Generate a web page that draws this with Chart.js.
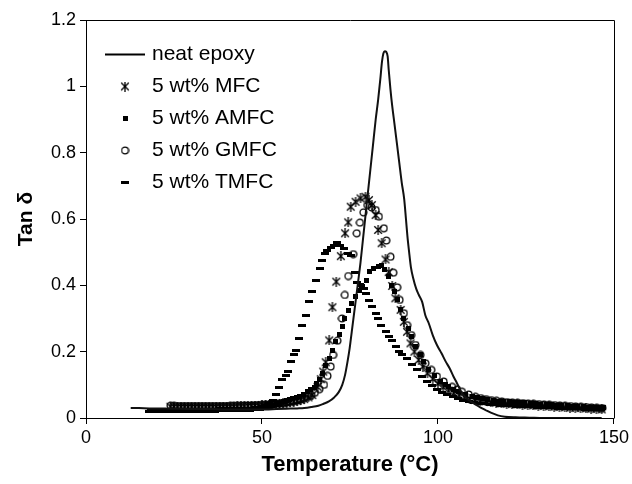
<!DOCTYPE html>
<html>
<head>
<meta charset="utf-8">
<script src="https://cdn.jsdelivr.net/npm/chart.js@4.4.1/dist/chart.umd.min.js"></script>
<style>
  html, body { margin: 0; padding: 0; background: #fff; }
  #wrap { position: relative; width: 632px; height: 484px; }
</style>
</head>
<body>
<div id="wrap"><canvas id="c"></canvas></div>
<script>
// ---- data (temperature °C, tan δ) ----
const seriesNames = ['neat epoxy', '5 wt% MFC', '5 wt% AMFC', '5 wt% GMFC', '5 wt% TMFC'];
const xTicks = [0, 50, 100, 150];
const yTicks = [0, 0.2, 0.4, 0.6, 0.8, 1, 1.2];
const yTickLabels = ['0', '0.2', '0.4', '0.6', '0.8', '1', '1.2'];

const neatEpoxy = [[12.7,0.03],[15,0.03],[18,0.029],[21,0.029],[24,0.028],[27,0.028],[30,0.027],[33,0.027],[36,0.027],[39,0.026],[42,0.026],[45,0.026],[48,0.026],[51,0.026],[54,0.027],[57,0.028],[60,0.029],[62,0.03],[64,0.033],[66,0.037],[67.5,0.043],[69,0.05],[70.5,0.062],[71.8,0.078],[72.8,0.1],[73.6,0.13],[74.3,0.17],[74.9,0.21],[75.5,0.26],[76.1,0.31],[76.7,0.36],[77.3,0.41],[78,0.47],[78.7,0.54],[79.4,0.61],[80.1,0.68],[80.8,0.75],[81.5,0.82],[82.3,0.9],[83,0.96],[83.6,1.02],[84.1,1.075],[84.5,1.1],[84.9,1.106],[85.3,1.104],[85.7,1.09],[86,1.05],[86.5,0.99],[87,0.94],[87.6,0.89],[88.3,0.83],[89,0.77],[89.7,0.71],[90.4,0.66],[90.9,0.6],[91.3,0.55],[91.8,0.5],[92.3,0.455],[93,0.42],[93.8,0.39],[94.6,0.37],[95.5,0.35],[96.4,0.31],[97.4,0.285],[98.5,0.25],[99.7,0.22],[101,0.195],[102.2,0.17],[103.3,0.15],[104.4,0.125],[105.4,0.105],[106.4,0.083],[107.5,0.066],[109,0.052],[110.5,0.042],[112,0.032],[113.5,0.024],[115,0.016],[117,0.008],[119,0.004],[122,0.002],[126,0.001],[130,0],[135,0],[140,0],[146.5,0]];

const mfc = [[24,0.034],[25,0.034],[26,0.033],[27,0.033],[28,0.033],[29,0.033],[30,0.033],[31,0.033],[32,0.033],[33,0.033],[34,0.033],[35,0.033],[36,0.033],[37,0.033],[38,0.034],[39,0.034],[40,0.034],[41,0.034],[42,0.034],[43,0.035],[44,0.035],[45,0.035],[46,0.036],[47,0.036],[48,0.037],[49,0.037],[50,0.038],[51,0.039],[52,0.04],[53,0.041],[54,0.042],[55,0.043],[56,0.044],[57,0.045],[58,0.047],[59,0.049],[60,0.051],[61,0.054],[62,0.057],[63.2,0.062],[64.3,0.069],[65.8,0.094],[66.7,0.117],[67.4,0.14],[68.1,0.168],[69.1,0.234],[70,0.334],[71.1,0.411],[72.4,0.488],[73.6,0.557],[74.5,0.59],[75.2,0.637],[76.6,0.652],[78,0.662],[79.4,0.667],[80.4,0.657],[81.2,0.642],[82.3,0.612],[83,0.567],[84,0.527],[85.1,0.478],[86,0.44],[87,0.398],[87.9,0.361],[89.4,0.326],[90.3,0.29],[91.2,0.26],[92.2,0.225],[93.3,0.2],[94.5,0.175],[95.7,0.155],[97,0.135],[98.5,0.118],[100,0.104],[101.5,0.093],[103,0.083],[104.5,0.075],[106,0.068],[107.5,0.062],[109,0.058],[110.5,0.055],[112,0.052],[113.5,0.05],[115,0.048],[116.5,0.046],[118,0.044],[119.5,0.043],[121,0.042],[122.5,0.041],[124,0.04],[125.5,0.039],[127,0.038],[128.5,0.037],[130,0.036],[131.5,0.035],[133,0.034],[134.5,0.033],[136,0.032],[137.5,0.031],[139,0.03],[140.5,0.03],[142,0.029],[143.5,0.028],[145,0.027],[146.5,0.026]];

const amfc = [[18,0.023],[19,0.023],[20,0.023],[21,0.023],[22,0.023],[23,0.023],[24,0.023],[25,0.023],[26,0.023],[27,0.023],[28,0.023],[29,0.023],[30,0.023],[31,0.024],[32,0.024],[33,0.024],[34,0.024],[35,0.024],[36,0.024],[37,0.024],[38,0.025],[39,0.025],[40,0.025],[41,0.025],[42,0.025],[43,0.026],[44,0.026],[45,0.026],[46,0.027],[47,0.027],[48,0.028],[49,0.029],[50,0.03],[51,0.032],[52,0.035],[53,0.038],[54,0.041],[55,0.045],[56,0.049],[57,0.052],[57.7,0.055],[58.8,0.059],[59.7,0.062],[60.6,0.065],[61.8,0.072],[62.9,0.079],[63.8,0.085],[64.8,0.093],[65.5,0.104],[66.2,0.115],[67.2,0.135],[68.1,0.158],[69.1,0.18],[70,0.205],[71,0.23],[71.9,0.253],[72.8,0.277],[73.5,0.3],[74.5,0.324],[75.5,0.346],[76.6,0.366],[77.6,0.384],[78.3,0.398],[79.6,0.416],[80.6,0.441],[81.8,0.451],[83,0.456],[84,0.461],[84.9,0.448],[85.8,0.428],[86.8,0.401],[87.6,0.38],[88.4,0.356],[89.4,0.326],[90.3,0.3],[91.5,0.27],[92.4,0.245],[93.6,0.215],[94.9,0.19],[96,0.17],[97.4,0.147],[98.9,0.127],[100.7,0.11],[102,0.1],[103,0.094],[104.5,0.087],[105.9,0.08],[107.8,0.072],[109.7,0.065],[111.2,0.061],[112.7,0.058],[114.2,0.055],[115.7,0.053],[117.2,0.051],[118.7,0.05],[120.2,0.049],[121.7,0.048],[123.2,0.047],[124.7,0.046],[126.2,0.044],[127.7,0.043],[129.2,0.042],[130.7,0.041],[132.2,0.04],[133.7,0.039],[135.2,0.038],[136.7,0.037],[138.2,0.036],[139.7,0.035],[141.2,0.034],[142.7,0.033],[144.2,0.032],[145.7,0.031],[147,0.031]];

const gmfc = [[24,0.037],[25,0.037],[26,0.036],[27,0.036],[28,0.036],[29,0.036],[30,0.036],[31,0.036],[32,0.036],[33,0.036],[34,0.036],[35,0.036],[36,0.036],[37,0.036],[38,0.036],[39,0.036],[40,0.036],[41,0.037],[42,0.037],[43,0.037],[44,0.037],[45,0.038],[46,0.038],[47,0.038],[48,0.039],[49,0.039],[50,0.04],[51,0.04],[52,0.041],[53,0.042],[54,0.043],[55,0.044],[56,0.045],[57,0.047],[58,0.049],[59,0.051],[60,0.053],[61,0.056],[62,0.06],[63,0.064],[64,0.069],[65,0.076],[66.3,0.087],[67.6,0.1],[68.6,0.127],[69.5,0.155],[70.2,0.19],[71.4,0.233],[72.7,0.3],[73.5,0.371],[74.5,0.428],[75.9,0.494],[76.9,0.557],[77.8,0.589],[78.8,0.62],[79.9,0.642],[81.1,0.635],[82.3,0.627],[83.2,0.607],[84.6,0.572],[85.3,0.535],[86.5,0.486],[87.3,0.438],[88.4,0.394],[89.1,0.356],[90.3,0.316],[91.2,0.28],[92.4,0.25],[93.6,0.22],[95,0.19],[96.4,0.165],[98.1,0.145],[99.7,0.125],[101.6,0.11],[104,0.094],[105.4,0.086],[106.8,0.079],[108.7,0.071],[110.6,0.064],[112.1,0.06],[113.6,0.057],[115.1,0.054],[116.6,0.052],[118.1,0.05],[119.6,0.048],[121.1,0.047],[122.6,0.046],[124.1,0.045],[125.6,0.044],[127.1,0.043],[128.6,0.042],[130.1,0.041],[131.6,0.04],[133.1,0.039],[134.6,0.038],[136.1,0.037],[137.6,0.036],[139.1,0.035],[140.6,0.034],[142.1,0.033],[143.6,0.032],[145.1,0.031],[146.6,0.03]];

const tmfc = [[18,0.021],[19,0.021],[20,0.021],[21,0.021],[22,0.021],[23,0.021],[24,0.021],[25,0.021],[26,0.021],[27,0.021],[28,0.021],[29,0.021],[30,0.022],[31,0.022],[32,0.022],[33,0.022],[34,0.022],[35,0.022],[36,0.022],[37,0.023],[38,0.023],[39,0.023],[40,0.023],[41,0.024],[42,0.024],[43,0.025],[44,0.025],[45,0.026],[46,0.027],[47,0.028],[48,0.03],[49,0.032],[50,0.035],[51,0.039],[52,0.045],[53,0.054],[54,0.07],[54.9,0.093],[55.8,0.115],[56.7,0.128],[57.5,0.14],[58.2,0.17],[59,0.19],[59.6,0.205],[60.6,0.24],[61.5,0.28],[62.4,0.31],[63.3,0.35],[64.3,0.38],[65.3,0.415],[66.5,0.45],[67.1,0.475],[68,0.495],[68.5,0.505],[69.5,0.515],[70.5,0.52],[71.3,0.53],[72.3,0.52],[73.3,0.51],[74.3,0.495],[75.3,0.49],[76.4,0.44],[77,0.41],[78,0.4],[79,0.39],[79.5,0.375],[80.3,0.355],[81.2,0.335],[82.3,0.315],[83,0.3],[83.8,0.28],[85.2,0.26],[86,0.245],[87,0.235],[88,0.215],[89,0.2],[89.7,0.19],[91.1,0.18],[92.6,0.16],[94,0.145],[95.4,0.125],[96.8,0.11],[98.2,0.097],[99.7,0.087],[101.2,0.078],[102.7,0.07],[104.2,0.064],[105.7,0.058],[107.2,0.054],[108.7,0.05],[110.2,0.047],[111.7,0.045],[113.2,0.043],[114.7,0.041],[116.2,0.04],[117.7,0.039],[119.2,0.038],[120.7,0.037],[122.2,0.036],[123.7,0.035],[125.2,0.034],[126.7,0.034],[128.2,0.033],[129.7,0.032],[131.2,0.031],[132.7,0.031],[134.2,0.03],[135.7,0.029],[137.2,0.029],[138.7,0.028],[140.2,0.028],[141.7,0.027],[143.2,0.027],[144.7,0.026],[146.2,0.025]];

// ---- marker images ----
function mk(w, h, draw) {
  const c = document.createElement('canvas');
  c.width = w; c.height = h;
  const g = c.getContext('2d');
  g.strokeStyle = '#000'; g.fillStyle = '#000'; g.lineWidth = 1.3;
  draw(g);
  return c;
}
const imgLine = mk(40, 4, g => { g.fillRect(0, 1, 40, 2); });
const imgStar = mk(10, 10, g => {
  g.beginPath();
  g.moveTo(1.2, 1.2); g.lineTo(8.8, 8.8);
  g.moveTo(8.8, 1.2); g.lineTo(1.2, 8.8);
  g.moveTo(5, 0); g.lineTo(5, 10);
  g.stroke();
});
const imgSquare = mk(5, 5, g => { g.fillRect(0, 0, 5, 5); });
const imgCircle = mk(9, 9, g => { g.beginPath(); g.arc(4.5, 4.5, 3.4, 0, Math.PI * 2); g.stroke(); });
const imgDash = mk(8, 3, g => { g.fillRect(0, 0, 8, 3); });

const toXY = arr => arr.map(p => ({ x: p[0], y: p[1] }));

const framePlugin = {
  id: 'frame',
  afterLayout(chart) {
    const a = chart.chartArea, lg = chart.legend;
    if (lg) {
      lg.left = a.left + 11.5; lg.top = a.top + 13;
      lg.right = a.right; lg.bottom = a.bottom;
      lg.width = lg.right - lg.left; lg.height = lg.bottom - lg.top;
    }
  },
  afterDraw(chart) {
    const a = chart.chartArea, ctx = chart.ctx;
    ctx.save();
    ctx.strokeStyle = '#000'; ctx.lineWidth = 1;
    ctx.beginPath();
    ctx.moveTo(Math.round(a.left) + 0.5, Math.round(a.top) + 0.5);
    ctx.lineTo(Math.round(a.right) + 0.5, Math.round(a.top) + 0.5);
    ctx.lineTo(Math.round(a.right) + 0.5, Math.round(a.bottom) + 0.5);
    ctx.stroke();
    ctx.restore();
  }
};

Chart.defaults.font.family = '"Liberation Sans", Arial, sans-serif';
Chart.defaults.color = '#000';

new Chart(document.getElementById('c'), {
  type: 'scatter',
  data: {
    datasets: [
      { label: seriesNames[0], data: toXY(neatEpoxy), showLine: true, borderColor: '#111', borderWidth: 2,
        pointRadius: 0, pointStyle: imgLine, cubicInterpolationMode: 'monotone', backgroundColor: '#111' },
      { label: seriesNames[1], data: toXY(mfc), pointStyle: imgStar, pointRadius: 4, borderColor: '#000', backgroundColor: '#000' },
      { label: seriesNames[2], data: toXY(amfc), pointStyle: imgSquare, pointRadius: 3, borderColor: '#000', backgroundColor: '#000' },
      { label: seriesNames[3], data: toXY(gmfc), pointStyle: imgCircle, pointRadius: 4, borderColor: '#000', backgroundColor: '#000' },
      { label: seriesNames[4], data: toXY(tmfc), pointStyle: imgDash, pointRadius: 4, borderColor: '#000', backgroundColor: '#000' }
    ]
  },
  options: {
    responsive: true,
    maintainAspectRatio: false,
    animation: false,
    devicePixelRatio: 1,
    layout: { padding: { top: 20, right: 16, left: 0, bottom: 0 } },
    plugins: {
      tooltip: { enabled: false },
      legend: {
        position: 'chartArea',
        align: 'start',
        labels: {
          usePointStyle: true,
          pointStyleWidth: 33,
          padding: 11,
          color: '#000',
          font: { size: 21 }
        }
      }
    },
    scales: {
      x: {
        type: 'linear', min: 0, max: 150,
        afterBuildTicks: s => { s.ticks = xTicks.map(v => ({ value: v })); },
        afterFit: s => { s.height = 66; },
        grid: { display: true, drawOnChartArea: false, drawTicks: true, tickLength: 6, color: '#000' },
        border: { display: true, color: '#000', width: 1 },
        ticks: { color: '#000', font: { size: 18 }, padding: 3, maxRotation: 0,
                 callback: (v, i) => String(xTicks[i]) },
        title: { display: true, text: 'Temperature (°C)', color: '#000', font: { size: 22, weight: 'bold' }, padding: { top: 0, bottom: 6 } }
      },
      y: {
        type: 'linear', min: 0, max: 1.2,
        afterBuildTicks: s => { s.ticks = yTicks.map(v => ({ value: v })); },
        afterFit: s => { s.width = 86; },
        grid: { display: true, drawOnChartArea: false, drawTicks: true, tickLength: 6, color: '#000' },
        border: { display: true, color: '#000', width: 1 },
        ticks: { color: '#000', font: { size: 18 }, padding: 4,
                 callback: (v, i) => yTickLabels[i] },
        title: { display: true, text: 'Tan δ', color: '#000', font: { size: 21, weight: 'bold' }, padding: { top: 14, bottom: 0 } }
      }
    }
  },
  plugins: [framePlugin]
});
</script>
</body>
</html>
